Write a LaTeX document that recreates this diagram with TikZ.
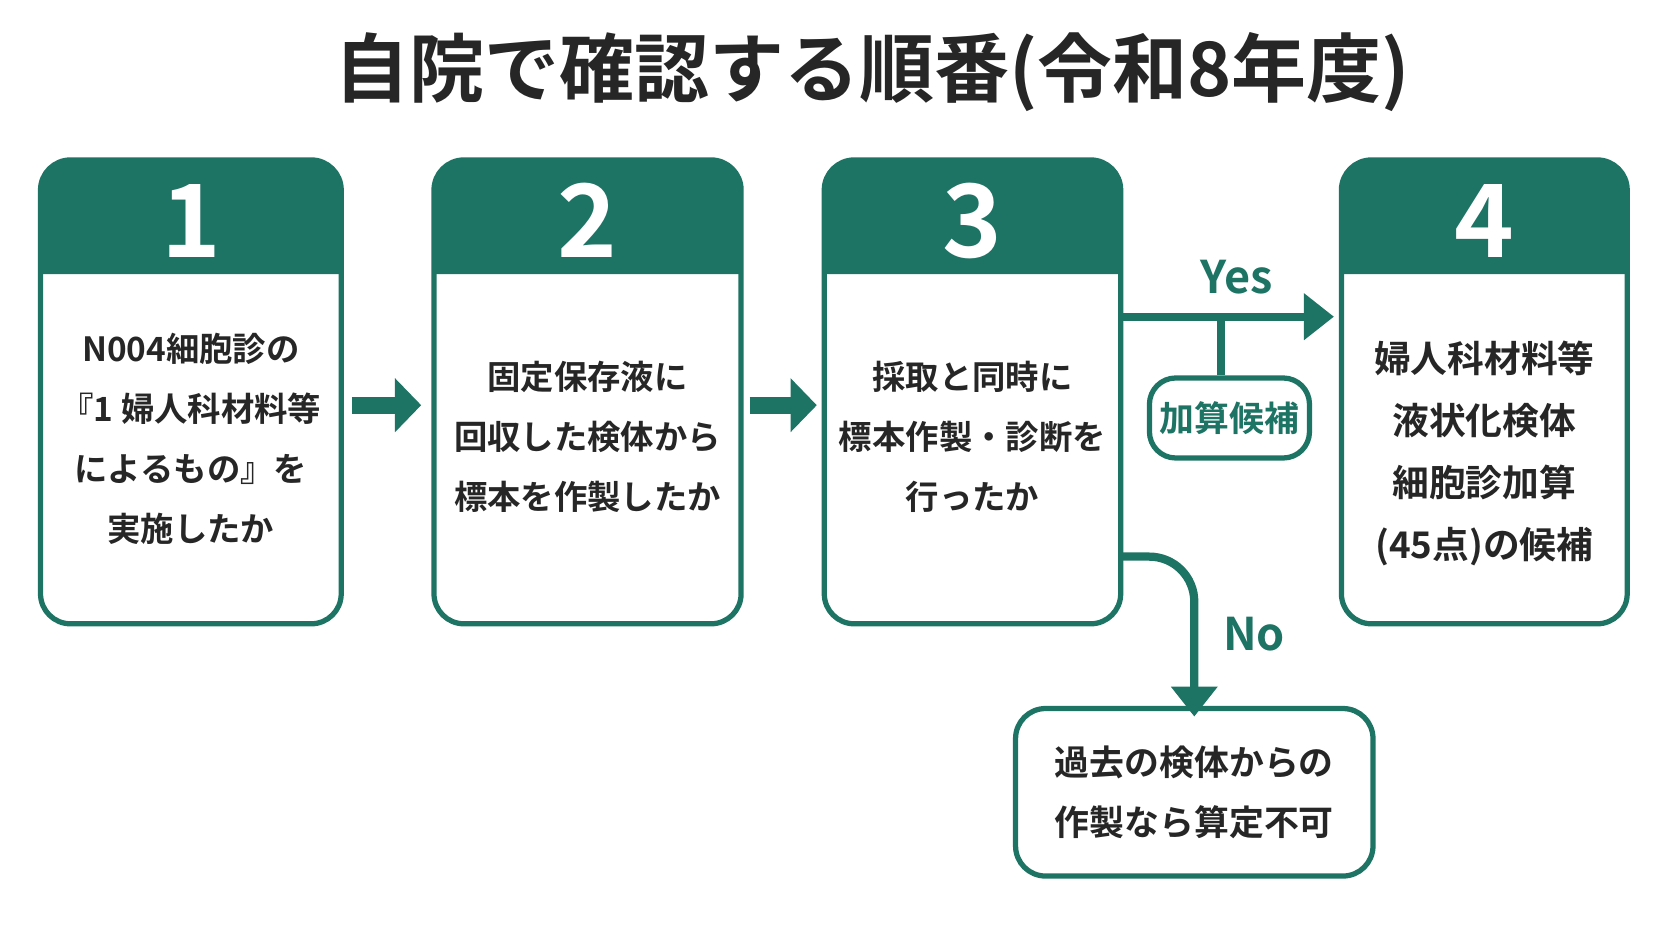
\documentclass[tikz,border=0pt]{standalone}
\usepackage{fontspec}
\setmainfont{Noto Sans CJK JP}[BoldFont={Noto Sans CJK JP Bold}]
\usetikzlibrary{arrows.meta,positioning}
\definecolor{teal}{HTML}{1E7464}
\tikzset{
>=Triangle,
%Define styles
box/.style={draw=teal, line width=1.4pt, rounded corners=8pt},
head/.style={fill=teal, rounded corners=8pt},
num/.style={white, font=\fontsize{27}{27}\selectfont\bfseries},
body/.style={align=center, font=\fontsize{8.9}{16}\selectfont\bfseries, text=black!85},
flow/.style={teal, line width=2.2pt},
lab/.style={teal, font=\fontsize{12}{12}\selectfont\bfseries},
big arrow/.style={teal, line width=4.5pt, -{Triangle[length=7pt,width=14pt]}},
}

\begin{document}
\begin{tikzpicture}[x=0.01cm, y=-0.01cm]
\useasboundingbox (0,0) rectangle (1568,882);

% title
\node[font=\fontsize{20}{20}\selectfont\bfseries, text=black!85] (title) at (818,68) {自院で確認する順番(令和8年度)};

% step boxes
\foreach \n/\xa/\xb in {1/38/320, 2/407/695, 3/773/1051, 4/1258/1526}{
  \fill[head] (\xa,257) |- (\xb,150) [sharp corners] -- (\xb,257) -- cycle;
  \draw[box] (\xa,150) rectangle (\xb,585);
  \node[num] (n\n) at ({(\xa+\xb)/2},207) {\n};
  \coordinate (s\n) at ({(\xa+\xb)/2},420);
}
\node[body] (t1) at ([yshift=0.08cm]s1) {N004細胞診の\\『1 婦人科材料等\\によるもの』を\\実施したか};
\node[body] (t2) at ([yshift=0.1cm]s2) {固定保存液に\\回収した検体から\\標本を作製したか};
\node[body] (t3) at ([yshift=0.1cm]s3) {採取と同時に\\標本作製・診断を\\行ったか};
\node[body, font=\fontsize{9.8}{16.5}\selectfont\bfseries] (t4) at ([yshift=-0.05cm]s4) {婦人科材料等\\液状化検体\\細胞診加算\\(45点)の候補};

% arrows between steps
\coordinate (b1r) at (330,380); \coordinate (b2l) at (395,380);
\coordinate (b2r) at (703,380); \coordinate (b3l) at (766,380);
\draw[big arrow] (b1r) -- (b2l);
\draw[big arrow] (b2r) -- (b3l);

% yes branch
\coordinate (y0) at (1051,297); \coordinate (y1) at (1251,297);
\draw[flow, -{Triangle[length=8pt,width=12pt]}] (y0) -- (y1);
\node[lab] (yes) at (1160,260) {Yes};
\node[draw=teal, line width=1.4pt, rounded corners=7pt, minimum width=1.5cm, minimum height=0.75cm,
  inner sep=2pt, font=\fontsize{9.3}{9.3}\selectfont\bfseries, text=teal] (cand) at (1153,392) {加算候補};
\coordinate (yb) at (1145,297);
\draw[flow] (yb) -- (yb |- cand.north);

% no branch
\node[box, draw, minimum width=3.35cm, minimum height=1.57cm, body, font=\fontsize{9.3}{16}\selectfont\bfseries] (ng) at (1120,743) {過去の検体からの\\作製なら算定不可};
\coordinate (n0) at (1051,522);
\draw[flow, rounded corners=12pt, -{Triangle[length=8pt,width=12pt]}] (n0) -| ([yshift=-0.1cm]ng.north);
\node[lab] (no) at (1176,595) {No};
\end{tikzpicture}
\end{document}
